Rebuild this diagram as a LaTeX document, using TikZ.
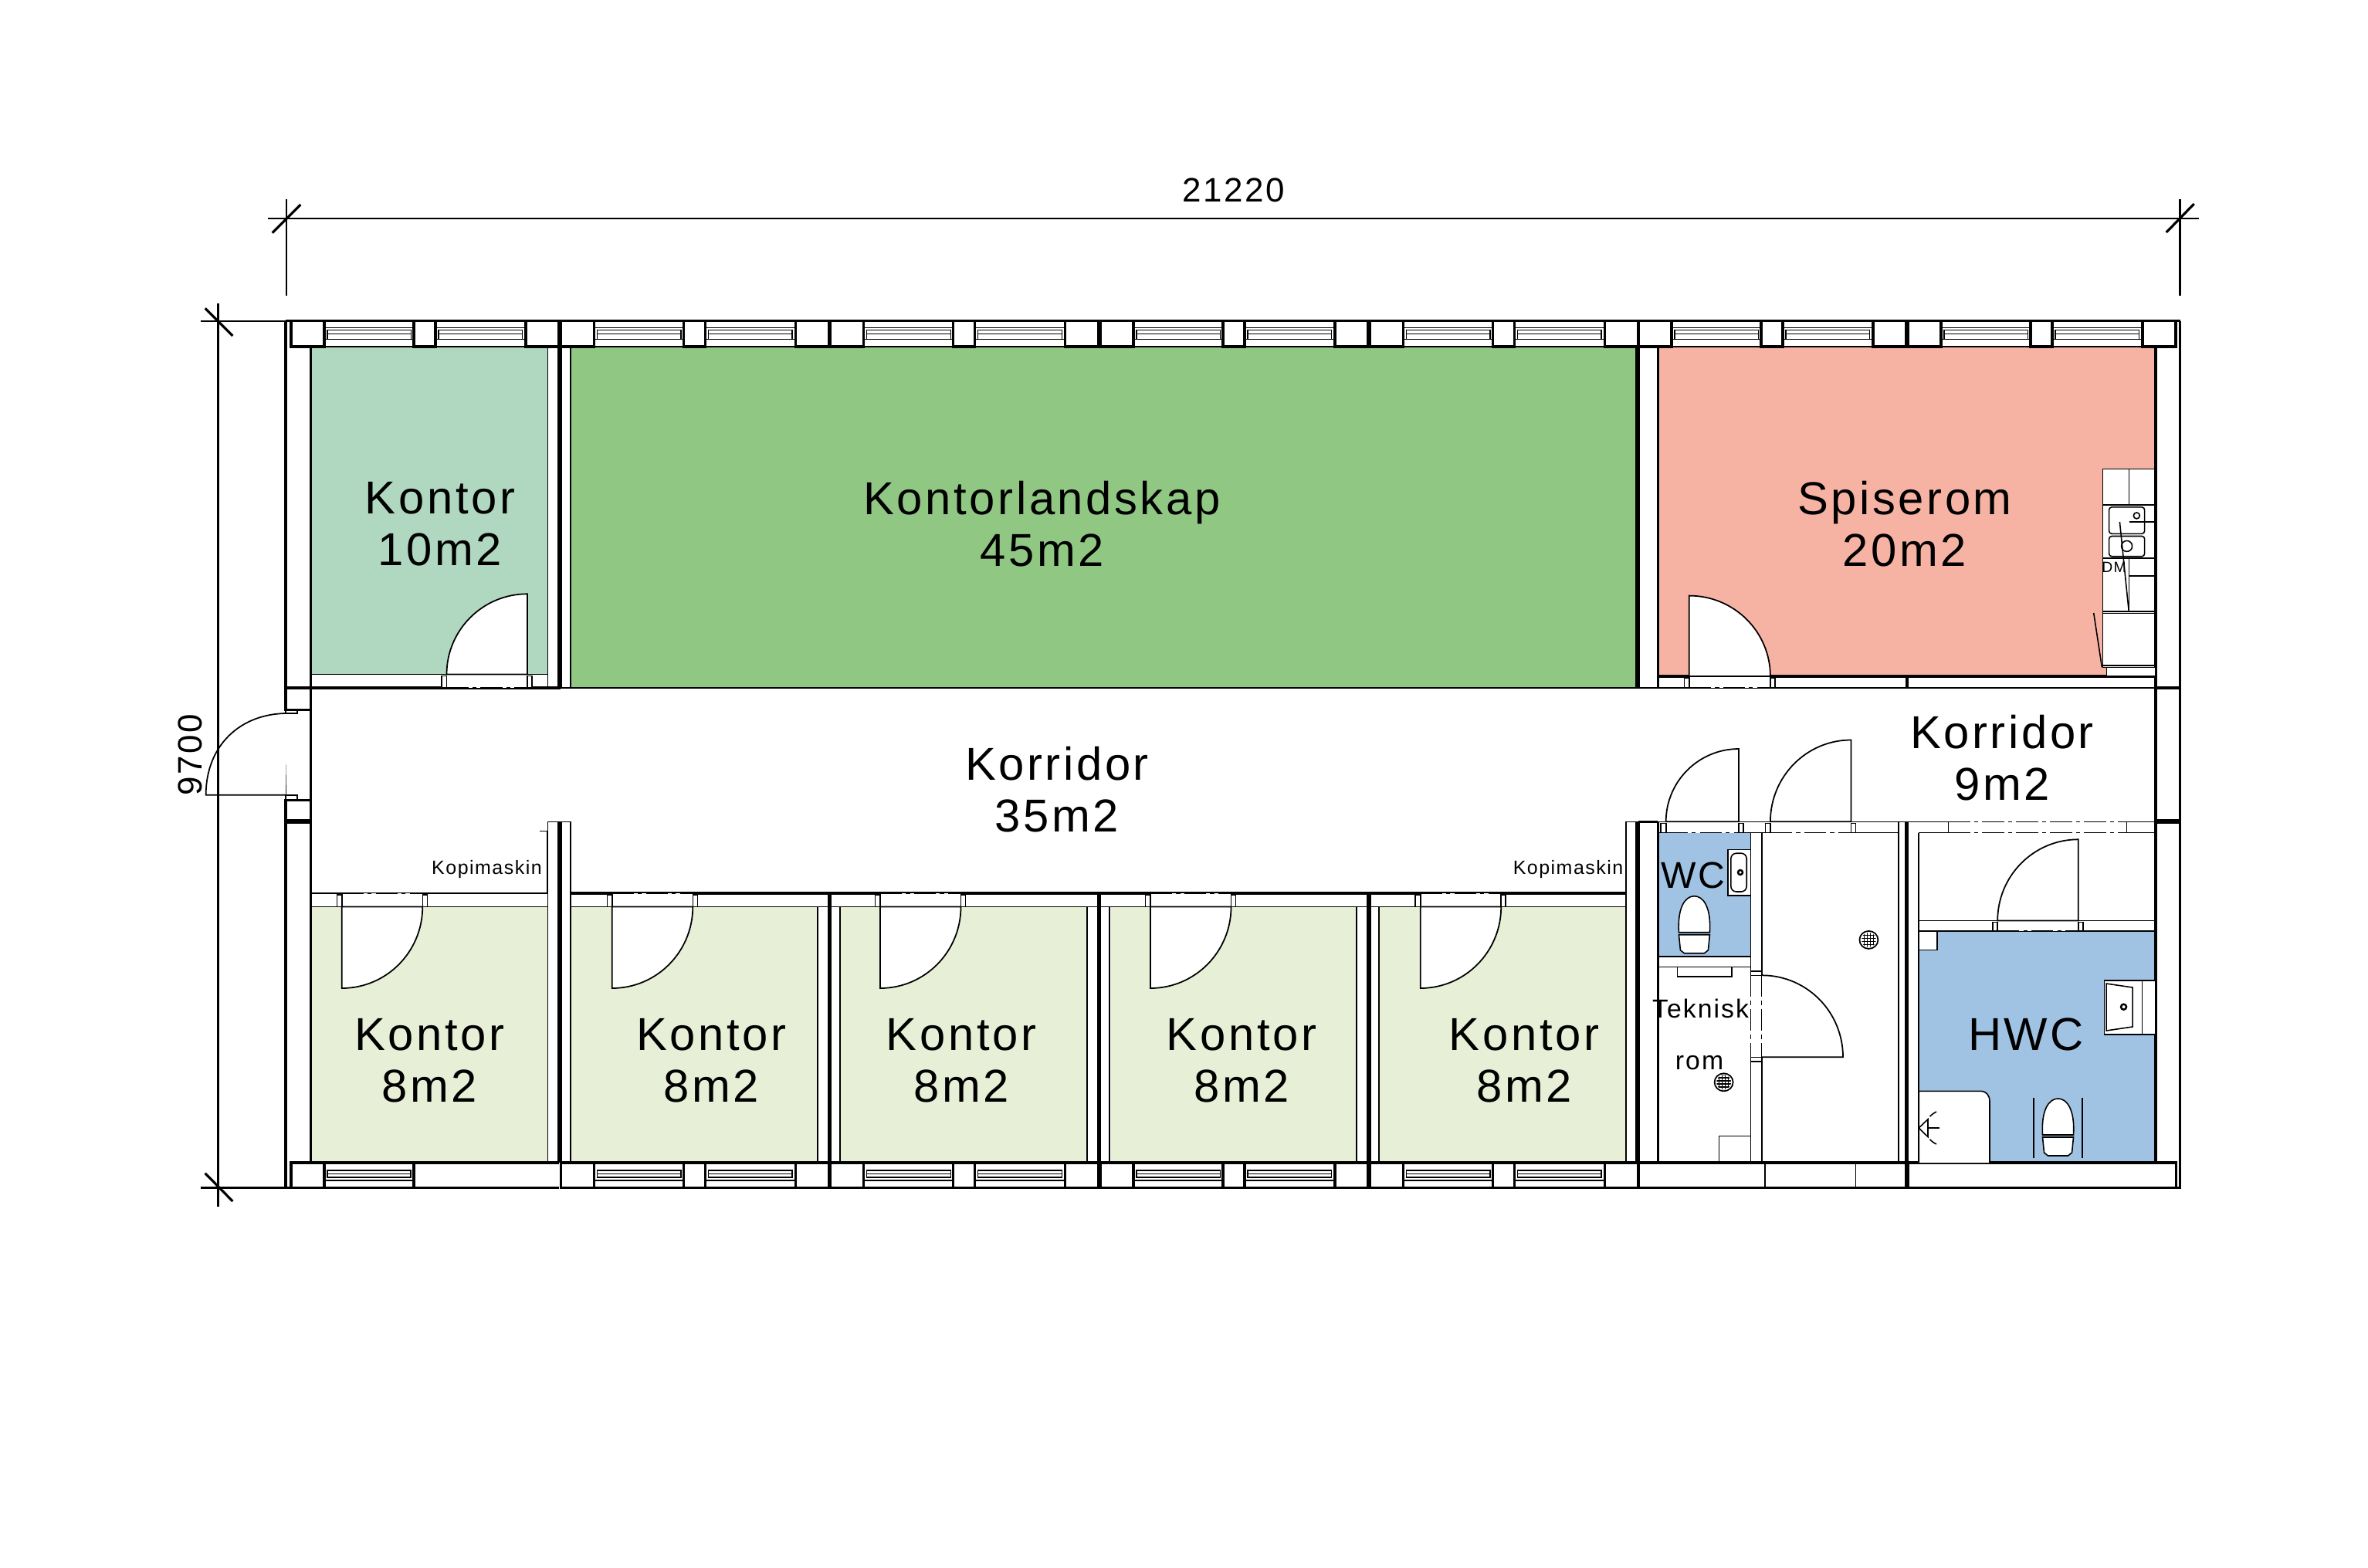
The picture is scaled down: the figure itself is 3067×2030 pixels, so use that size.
\documentclass[tikz,border=0pt]{standalone}
\usepackage{fontspec}
\setmainfont{Liberation Sans}[LetterSpace=6]
\definecolor{officeteal}{HTML}{B0D8C0}
\definecolor{officegreen}{HTML}{8FC783}
\definecolor{diningred}{HTML}{F6B3A4}
\definecolor{officepale}{HTML}{E7EFD6}
\definecolor{bathblue}{HTML}{A0C3E4}
\tikzset{
  wall/.style={line width=.95pt},
  thinwall/.style={line width=.45pt},
  sash/.style={line width=.35pt},
  dimline/.style={line width=.7pt},
  slash/.style={line width=.9pt},
  opening/.style={line width=.4pt,dash pattern=on 8pt off 1.5pt on 1.5pt off 1.5pt},
  swing/.style={line width=.5pt,fill=white},
  roomtext/.style={align=center,inner sep=0pt,font=\fontsize{17}{19}\selectfont},
  smalltext/.style={inner sep=0pt,font=\fontsize{7.1}{8}\selectfont}
}
% door in a wall: x1, x2, y1, y2
\newcommand{\doorgap}[4]{
  \fill[white] (#1,#3) rectangle (#2,#4);
  \draw[opening] (#1,#3) -- (#2,#3);
  \draw[opening] (#1,#4) -- (#2,#4);
  \draw[thinwall,fill=white] (#1-6.5,#3+2) rectangle (#1,#4);
  \draw[thinwall,fill=white] (#2,#3+2) rectangle (#2+6,#4);
}
% leaf and swing: hinge x, base y, leaf tip y, arc end x
\newcommand{\doorleaf}[4]{
  \draw[swing] (#1,#2) -- (#1,#3) .. controls ({#1+.5523*(#4-#1)},#3) and ({#4},{#2+.5523*(#3-#2)}) .. (#4,#2) -- cycle;
}
\newcommand{\wcbowl}[2]{
  \begin{scope}[shift={(#1,#2)}]
    \draw[thinwall,fill=white] (-20,47) .. controls (-22,15) and (-12,0) .. (0,0) .. controls (12,0) and (22,15) .. (20,47) -- cycle;
    \draw[thinwall,fill=white] (-20,50) -- (-18,70) -- (-13,74) -- (13,74) -- (18,70) -- (20,50) -- cycle;
  \end{scope}
}
\newcommand{\floordrain}[2]{
  \begin{scope}[shift={(#1,#2)}]
    \draw[line width=.5pt,fill=white] (0,0) ellipse [x radius=.12cm,y radius=.115cm];
    \clip (0,0) ellipse [x radius=.095cm,y radius=.095cm];
    \foreach \k in {-10,-6,...,10}{
      \draw[line width=.45pt] (\k,-12) -- (\k,12);
      \draw[line width=.45pt] (-12,\k) -- (12,\k);
    }
  \end{scope}
}
\begin{document}
\begin{tikzpicture}[x=.01cm,y=-.01cm]
  \useasboundingbox (0,0) rectangle (3067,2030);
  \fill[white] (0,0) rectangle (3067,2030);
  % rooms
  \fill[officeteal] (402.5,448.9) rectangle (709.6,873.6);
  \fill[officegreen] (739,448.9) rectangle (2120,891);
  \fill[diningred] (2147.4,448.9) rectangle (2792,875.9);
  \fill[officepale] (402.5,1174.5) rectangle (709.6,1506);
  \fill[officepale] (739,1174.5) rectangle (1058.7,1506);
  \fill[officepale] (1088,1174.5) rectangle (1407.8,1506);
  \fill[officepale] (1438.6,1174.5) rectangle (1756.9,1506);
  \fill[officepale] (1786,1174.5) rectangle (2106,1506);
  \fill[bathblue] (2147.4,1078.5) rectangle (2267.3,1239.2);
  \fill[bathblue] (2485.2,1205.9) rectangle (2792,1506);
  % top windows
  \foreach \s in {377,726.4,1075.8,1425,1774.5,2122,2471}{
    \draw[wall] (\s,415.8) rectangle (\s+43,448.9);
    \draw[wall] (\s+159,415.8) rectangle (\s+187,448.9);
    \draw[wall] (\s+304,415.8) rectangle (\s+347,448.9);
    \foreach \w in {43,187}{
      \draw[thinwall] (\s+\w,424.5) -- (\s+\w+116.5,424.5);
      \draw[sash] (\s+\w,439.7) -- (\s+\w+116.5,439.7);
      \draw[thinwall] (\s+\w,448.9) -- (\s+\w+116.5,448.9);
      \draw[sash] (\s+\w+4,427.3) rectangle (\s+\w+112.5,439.7);
      \draw[sash] (\s+\w+4,432.8) -- (\s+\w+112.5,432.8);
    }
  }
  % bottom windows
  \foreach \s in {726.4,1075.8,1425,1774.5}{
    \draw[wall] (\s,1506) rectangle (\s+43,1538.5);
    \draw[wall] (\s+159,1506) rectangle (\s+187,1538.5);
    \draw[wall] (\s+304,1506) rectangle (\s+347,1538.5);
    \foreach \w in {43,187}{
      \draw[wall] (\s+\w,1506) -- (\s+\w+116.5,1506);
      \draw[wall] (\s+\w,1538.5) -- (\s+\w+116.5,1538.5);
      \draw[sash] (\s+\w,1529) -- (\s+\w+116.5,1529);
      \draw[sash] (\s+\w+4,1515.9) rectangle (\s+\w+112.5,1525);
      \draw[sash] (\s+\w+4,1520.5) -- (\s+\w+112.5,1520.5);
    }
  }
  \draw[wall] (377,1506) rectangle (420,1538.5);
  \draw[wall] (420,1506) -- (724,1506);
  \draw[wall] (420,1538.5) -- (724,1538.5);
  \draw[wall] (536,1506) -- (536,1538.5);
  \draw[sash] (424,1515.9) rectangle (532,1525);
  \draw[sash] (424,1520.5) -- (532,1520.5);
  \draw[sash] (420,1529) -- (536,1529);
  \draw[wall] (2122,1506) rectangle (2469,1538.5);
  \draw[wall] (2471,1506) rectangle (2818.4,1538.5);
  \draw[thinwall] (2286,1506) -- (2286,1538.5);
  \draw[thinwall] (2403.6,1506) -- (2403.6,1538.5);
  % outer walls
  \draw[wall] (370,415.8) -- (2823.5,415.8);
  \draw[wall] (370,415.8) -- (370,919.5);
  \draw[thinwall] (370,919.5) -- (370,1036.6);
  \draw[wall] (370,1036.6) -- (370,1538.5);
  \draw[wall] (402.5,448.9) -- (402.5,1506);
  \draw[wall] (370,891) rectangle (402.5,919.5);
  \draw[wall] (370,1036.6) rectangle (402.5,1064);
  \draw[line width=1.5pt] (370,1064) -- (402.5,1064);
  \draw[wall] (2823.5,415.8) -- (2823.5,1538.5) -- (2818.4,1538.5);
  \draw[wall] (2792,448.9) -- (2792,1506);
  \draw[wall] (2792,891) -- (2823.5,891);
  \draw[line width=1.5pt] (2792,1064) -- (2823.5,1064);
  \draw[wall] (370,1538.5) -- (377,1538.5);
  % inner walls
  \draw[thinwall] (709.6,448.9) -- (709.6,891);
  \draw[wall] (724,448.9) -- (724,891) -- (402.5,891);
  \draw[wall] (726.4,448.9) -- (726.4,891);
  \draw[thinwall] (739,448.9) -- (739,891);
  \draw[thinwall] (402.5,873.6) -- (709.6,873.6);
  \draw[thinwall] (726.4,891) -- (2122,891);
  \draw[wall] (2120,448.9) -- (2120,891);
  \draw[wall] (2122,448.9) -- (2122,891);
  \draw[wall] (2147.4,448.9) -- (2147.4,891);
  \draw[wall] (2147.4,875.9) -- (2792,875.9);
  \draw[thinwall] (2122,891) -- (2792,891);
  \draw[thinwall] (2469,875.9) -- (2469,891);
  \draw[thinwall] (2471,875.9) -- (2471,891);
  \draw[thinwall] (709.6,1064.3) -- (709.6,1506);
  \draw[wall] (724,1064.3) -- (724,1506);
  \draw[wall] (726.4,1064.3) -- (726.4,1506);
  \draw[thinwall] (739,1064.3) -- (739,1506);
  \draw[thinwall] (709.6,1064.3) -- (739,1064.3);
  \draw[thinwall] (699.4,1076.5) -- (708.6,1076.5) -- (708.6,1156.9);
  \draw[thinwall] (402.5,1156.9) -- (708.6,1156.9);
  \draw[thinwall] (402.5,1174.5) -- (709.6,1174.5);
  \draw[thinwall] (739,1174.5) -- (2106,1174.5);
  \draw[wall] (739,1156.9) -- (2106,1156.9);
  \foreach \x in {1058.7,1407.8,1756.9}{
    \draw[thinwall] (\x,1174.5) -- (\x,1506);
    \draw[wall] (\x+14.6,1156.9) -- (\x+14.6,1506);
    \draw[wall] (\x+17,1156.9) -- (\x+17,1506);
    \draw[thinwall] (\x+29.3,1174.5) -- (\x+29.3,1506);
  }
  % wet rooms
  \draw[thinwall] (2106,1064.3) -- (2106,1506);
  \draw[wall] (2120,1064.3) -- (2120,1506);
  \draw[wall] (2122,1064.3) -- (2122,1538.5);
  \draw[wall] (2147.4,1064.3) -- (2147.4,1506);
  \draw[thinwall] (2106,1064.3) -- (2120,1064.3);
  \draw[wall] (2122,1064.3) -- (2147.4,1064.3);
  \draw[thinwall] (2147.4,1064.3) -- (2458.7,1064.3);
  \draw[thinwall] (2147.4,1078.5) -- (2458.7,1078.5);
  \draw[thinwall] (2147.4,1239.2) -- (2267.3,1239.2);
  \draw[thinwall] (2147.4,1252.6) -- (2267.3,1252.6);
  \draw[thinwall] (2267.3,1078.5) -- (2267.3,1506);
  \draw[thinwall] (2282,1078.5) -- (2282,1506);
  \draw[thinwall] (2458.7,1064.3) -- (2458.7,1506);
  \draw[wall] (2468.4,1064.3) -- (2468.4,1538.5);
  \draw[wall] (2470.6,1064.3) -- (2470.6,1538.5);
  \draw[thinwall] (2458.7,1064.3) -- (2468.4,1064.3);
  \draw[thinwall] (2470.6,1064.3) -- (2792,1064.3);
  \draw[thinwall] (2485.2,1078.5) -- (2792,1078.5);
  \draw[thinwall] (2485.2,1078.5) -- (2485.2,1506);
  \draw[thinwall] (2485.2,1192.5) -- (2792,1192.5);
  \draw[thinwall] (2485.2,1205.9) -- (2792,1205.9);
  % doors
  \doorgap{578.5}{683}{873.6}{891}
  \doorleaf{683}{873.6}{769.3}{578.5}
  \doorgap{2187.8}{2292.9}{875.9}{891}
  \doorleaf{2187.8}{875.9}{771.6}{2292.9}
  \foreach \x in {442.8,792.8,1140,1490,1839.7}{
    \doorgap{\x}{\x+104.5}{1156.9}{1174.5}
    \doorleaf{\x}{1174.5}{1280}{\x+104.5}
  }
  \doorgap{2157.7}{2252}{1064.3}{1078.5}
  \doorleaf{2252}{1064.3}{970}{2157.7}
  \doorgap{2292.9}{2397.4}{1064.3}{1078.5}
  \doorleaf{2397.4}{1064.3}{958.5}{2292.9}
  \doorgap{2587.2}{2691.8}{1192.5}{1205.9}
  \doorleaf{2691.8}{1192.5}{1087.3}{2587.2}
  \fill[white] (2523.5,1064.3) rectangle (2754.6,1078.5);
  \draw[opening] (2523.5,1064.3) -- (2754.6,1064.3);
  \draw[opening] (2523.5,1078.5) -- (2754.6,1078.5);
  \draw[thinwall] (2523.5,1064.3) -- (2523.5,1078.5);
  \draw[thinwall] (2754.6,1064.3) -- (2754.6,1078.5);
  % door of the technical room, opens sideways
  \fill[white] (2267.3,1260) rectangle (2282,1373);
  \draw[opening] (2267.3,1263) -- (2267.3,1369);
  \draw[opening] (2282,1263) -- (2282,1369);
  \draw[thinwall,fill=white] (2267.3,1258) rectangle (2282,1263.3);
  \draw[thinwall,fill=white] (2267.3,1369.3) rectangle (2282,1375);
  \draw[swing] (2282,1369.3) -- (2387,1369.3) .. controls (2387,1310.6) and (2340,1263.3) .. (2282,1263.3);
  % entrance
  \draw[swing] (370,1029.7) -- (266.7,1029.7) .. controls (266.7,965) and (312,924) .. (372,924);
  \draw[thinwall] (370,924) -- (385,924) -- (385,919.5);
  \draw[thinwall] (370,1029.7) -- (385,1029.7) -- (385,1036.6);
  % kitchen
  \fill[white] (2728.6,864.4) rectangle (2791,875);
  \draw[thinwall,fill=white] (2723.5,607.3) rectangle (2791,864.4);
  \draw[thinwall] (2757.6,607.3) -- (2757.6,654);
  \draw[thinwall] (2723.5,654) -- (2791,654);
  \draw[thinwall] (2757.6,676) -- (2791,676);
  \draw[thinwall] (2723.5,723) -- (2791,723);
  \draw[thinwall] (2757.6,723) -- (2757.6,791.8);
  \draw[thinwall] (2757.6,746) -- (2791,746);
  \draw[thinwall] (2723.5,791.8) -- (2791,791.8);
  \draw[thinwall] (2723.5,794.6) -- (2791,794.6);
  \draw[thinwall] (2723.5,862) -- (2791,862);
  \draw[thinwall,rounded corners=1pt,fill=white] (2731.6,656.9) rectangle (2777.6,691.3);
  \draw[thinwall] (2757.6,676) -- (2777.6,676);
  \draw[thinwall,rounded corners=1pt] (2731.6,694.5) rectangle (2777.6,720.7);
  \draw[thinwall] (2767.3,667.9) circle [radius=.04cm];
  \draw[thinwall] (2754.6,707.4) circle [radius=.07cm];
  \draw[thinwall] (2745.4,676) -- (2757.1,791);
  \draw[thinwall] (2711.7,794) -- (2722.4,864.4);
  \draw[thinwall] (2728.6,864.4) -- (2728.6,875.9);
  \node[smalltext,font=\fontsize{5.5}{6}\selectfont] (dishwasher) at (2738,734.5) {DM};
  % wc fittings
  \draw[thinwall,fill=white] (2237.8,1100.3) rectangle (2267.3,1160);
  \draw[thinwall,rounded corners=2pt] (2241.8,1105.2) rectangle (2262.2,1155);
  \draw[line width=.7pt] (2254,1130) circle [radius=.03cm];
  \wcbowl{2194.4}{1160.7}
  \draw[thinwall] (2172.4,1252.6) -- (2172.4,1264.8) -- (2242.9,1264.8) -- (2242.9,1252.6);
  \floordrain{2232.6}{1401.8}
  \draw[thinwall] (2226.5,1506) -- (2226.5,1471.5) -- (2267.3,1471.5);
  \floordrain{2420.4}{1217.4}
  % hwc fittings
  \draw[thinwall,fill=white] (2485.2,1205.9) rectangle (2509,1230.4);
  \draw[thinwall,fill=white] (2725.5,1269.8) rectangle (2792,1339.8);
  \draw[thinwall] (2774.5,1269.8) -- (2774.5,1339.8);
  \draw[thinwall] (2728,1274) -- (2762,1279) -- (2762,1330) -- (2728,1335) -- cycle;
  \draw[line width=.7pt] (2750.5,1304.2) circle [radius=.035cm];
  \draw[thinwall,fill=white] (2485.2,1506) -- (2485.2,1413.3) -- (2565,1413.3) .. controls (2573,1413.3) and (2577,1419) .. (2577,1427) -- (2577,1506);
  \draw[thinwall] (2485.2,1461) -- (2497,1449.7) -- (2497,1472.6) -- cycle;
  \draw[thinwall] (2497,1461) -- (2512,1461);
  \draw[thinwall,densely dashed] (2508,1440) .. controls (2500,1444) and (2498,1448) .. (2497,1450);
  \draw[thinwall,densely dashed] (2508,1482) .. controls (2500,1478) and (2498,1474) .. (2497,1472);
  \wcbowl{2665.5}{1423}
  \draw[thinwall] (2633.7,1422) -- (2633.7,1499.5);
  \draw[thinwall] (2697,1422) -- (2697,1499.5);
  % dimensions
  \draw[dimline] (347,283) -- (2847.7,283);
  \draw[dimline] (371,258) -- (371,383);
  \draw[dimline] (2823.3,258) -- (2823.3,383);
  \draw[slash] (352.7,301.7) -- (389.3,265);
  \draw[slash] (2805.7,301) -- (2841.7,264);
  \draw[dimline] (282.5,392.9) -- (282.5,1562.6);
  \draw[dimline] (259.6,415.8) -- (370,415.8);
  \draw[dimline] (259.6,1538.5) -- (370,1538.5);
  \draw[slash] (265.7,399.3) -- (301.4,435);
  \draw[slash] (265.7,1519.7) -- (301.4,1556);
  \node[inner sep=0pt,font=\fontsize{12.5}{14}\selectfont] (dimLength) at (1597.5,246) {21220};
  \node[inner sep=0pt,rotate=90,font=\fontsize{12.5}{14}\selectfont] (dimWidth) at (246,977.5) {9700};
  % labels
  \node[roomtext] (kontorTen) at (570,679) {Kontor\\10m2};
  \node[roomtext] (landskap) at (1349.6,679) {Kontorlandskap\\45m2};
  \node[roomtext] (spiserom) at (2467,679) {Spiserom\\20m2};
  \node[roomtext] (korridorLong) at (1369,1023) {Korridor\\35m2};
  \node[roomtext] (korridorShort) at (2593,982) {Korridor\\9m2};
  \node[roomtext] (kontorA) at (556.5,1374) {Kontor\\8m2};
  \node[roomtext] (kontorB) at (921.3,1374) {Kontor\\8m2};
  \node[roomtext] (kontorC) at (1245,1374) {Kontor\\8m2};
  \node[roomtext] (kontorD) at (1608,1374) {Kontor\\8m2};
  \node[roomtext] (kontorE) at (1974,1374) {Kontor\\8m2};
  \node[roomtext,anchor=base] (hwc) at (2624,1360.5) {HWC};
  \node[inner sep=0pt,anchor=base,font=\fontsize{13.7}{15}\selectfont] (wc) at (2193,1150) {WC};
  \node[inner sep=0pt,anchor=base,font=\fontsize{9.6}{11}\selectfont] (teknisk) at (2202.5,1318.4) {Teknisk};
  \node[inner sep=0pt,anchor=base,font=\fontsize{9.6}{11}\selectfont] (rom) at (2201,1385.4) {rom};
  \node[smalltext,anchor=base] (kopiLeft) at (630.5,1132) {Kopimaskin};
  \node[smalltext,anchor=base] (kopiRight) at (2031,1132) {Kopimaskin};
\end{tikzpicture}
\end{document}
